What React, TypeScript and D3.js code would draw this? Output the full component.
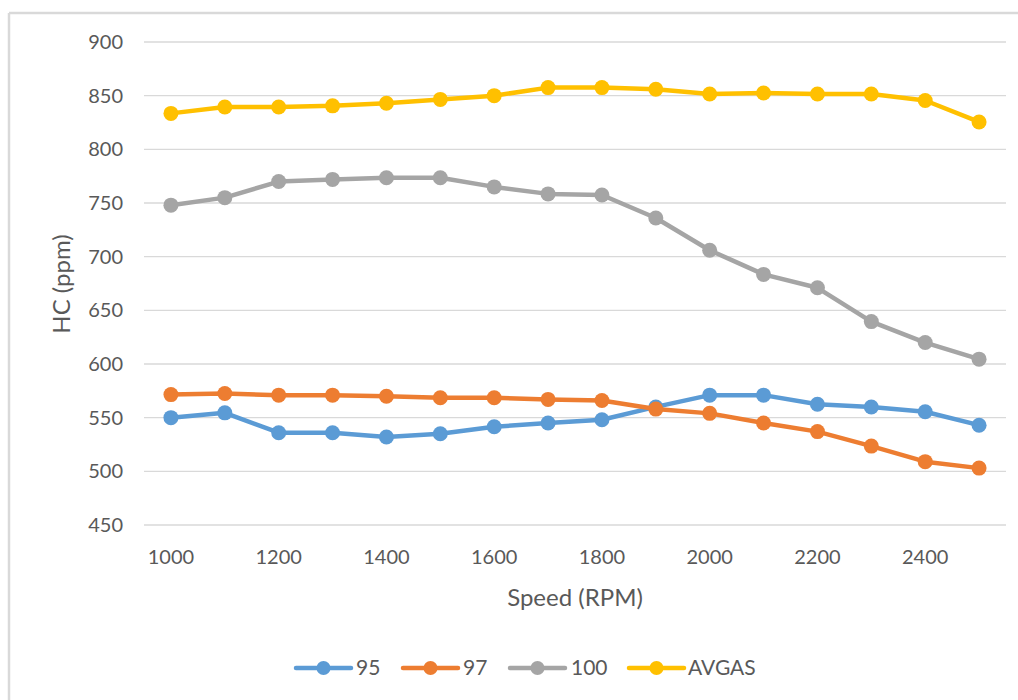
import React from "react";
import * as d3 from "d3";

const speeds = [1000, 1100, 1200, 1300, 1400, 1500, 1600, 1700, 1800, 1900, 2000, 2100, 2200, 2300, 2400, 2500];
const s95 = [550, 554.5, 536, 536, 532, 535, 541.5, 545, 548, 560, 571, 571, 562.5, 560, 555.5, 543];
const s97 = [571.5, 572.5, 571, 571, 570, 568.5, 568.5, 567, 566, 558, 554, 545, 537, 523.5, 509, 503];
const s100 = [748, 755, 770, 772, 773.5, 773.5, 765, 758.5, 757.5, 736, 706, 683.5, 671, 639.5, 620, 604.5];
const avgas = [833.5, 839.5, 839.5, 840.5, 843, 846.5, 850, 857.5, 857.5, 856, 851.5, 852.5, 851.5, 851.5, 845.5, 825.5];
const yTicks = [450, 500, 550, 600, 650, 700, 750, 800, 850, 900];
const xTickLabels = [1000, 1200, 1400, 1600, 1800, 2000, 2200, 2400];

const seriesNames = ["95", "97", "100", "AVGAS"];
const seriesColors = ["#5B9BD5", "#ED7D31", "#A5A5A5", "#FFC000"];
const seriesData = [s95, s97, s100, avgas];

const FONT = "Lato, 'Open Sans', sans-serif";
const TEXT = "#595959";

export default function App() {
  const W = 1018, H = 700;
  const left = 144, right = 1006, top = 42, bottom = 525;
  const x = d3.scaleBand<number>().domain(speeds).range([left, right]);
  const cx = (s: number) => (x(s) as number) + x.bandwidth() / 2;
  const y = d3.scaleLinear().domain([450, 900]).range([bottom, top]);
  const line = d3.line<number>().x((_, i) => cx(speeds[i])).y((v) => y(v));

  const legendItems = [
    { lx: 296, tx: 356 },
    { lx: 403, tx: 463 },
    { lx: 510, tx: 571 },
    { lx: 629, tx: 688 },
  ];
  const legY = 668;

  return (
    <svg width={W} height={H} style={{ position: "absolute", left: 0, top: 0 }} >
      <rect x={0} y={0} width={W} height={H} fill="#fff" />
      <line x1={9} y1={13} x2={W} y2={13} stroke="#d9d9d9" strokeWidth={2.5} />
      <line x1={9} y1={13} x2={9} y2={H} stroke="#d9d9d9" strokeWidth={2.5} />
      {yTicks.map((t) => (
        <g key={t}>
          <line x1={left} x2={right} y1={y(t)} y2={y(t)} stroke="#d9d9d9" strokeWidth={1.3} />
          <text x={123} y={y(t)} dy="0.35em" textAnchor="end" fontFamily={FONT} fontSize={20} fill={TEXT}>{t}</text>
        </g>
      ))}
      {xTickLabels.map((t) => (
        <text key={t} x={cx(t)} y={557} dy="0.35em" textAnchor="middle" fontFamily={FONT} fontSize={20} fill={TEXT}>{t}</text>
      ))}
      <text x={575} y={598} dy="0.35em" textAnchor="middle" fontFamily={FONT} fontSize={24} fill={TEXT}>Speed (RPM)</text>
      <text transform="translate(62,284) rotate(-90)" dy="0.35em" textAnchor="middle" fontFamily={FONT} fontSize={24} fill={TEXT}>HC (ppm)</text>
      {seriesData.map((d, si) => (
        <g key={si}>
          <path d={line(d) as string} fill="none" stroke={seriesColors[si]} strokeWidth={4.5} strokeLinejoin="round" strokeLinecap="round" />
          {d.map((v, i) => (
            <circle key={i} cx={cx(speeds[i])} cy={y(v)} r={7.5} fill={seriesColors[si]} />
          ))}
        </g>
      ))}
      {legendItems.map((it, i) => (
        <g key={i}>
          <line x1={it.lx} x2={it.lx + 55} y1={legY} y2={legY} stroke={seriesColors[i]} strokeWidth={4.5} strokeLinecap="round" />
          <circle cx={it.lx + 27.5} cy={legY} r={7} fill={seriesColors[i]} />
          <text x={it.tx} y={legY} dy="0.35em" fontFamily={FONT} fontSize={21} fill={TEXT}>{seriesNames[i]}</text>
        </g>
      ))}
    </svg>
  );
}
